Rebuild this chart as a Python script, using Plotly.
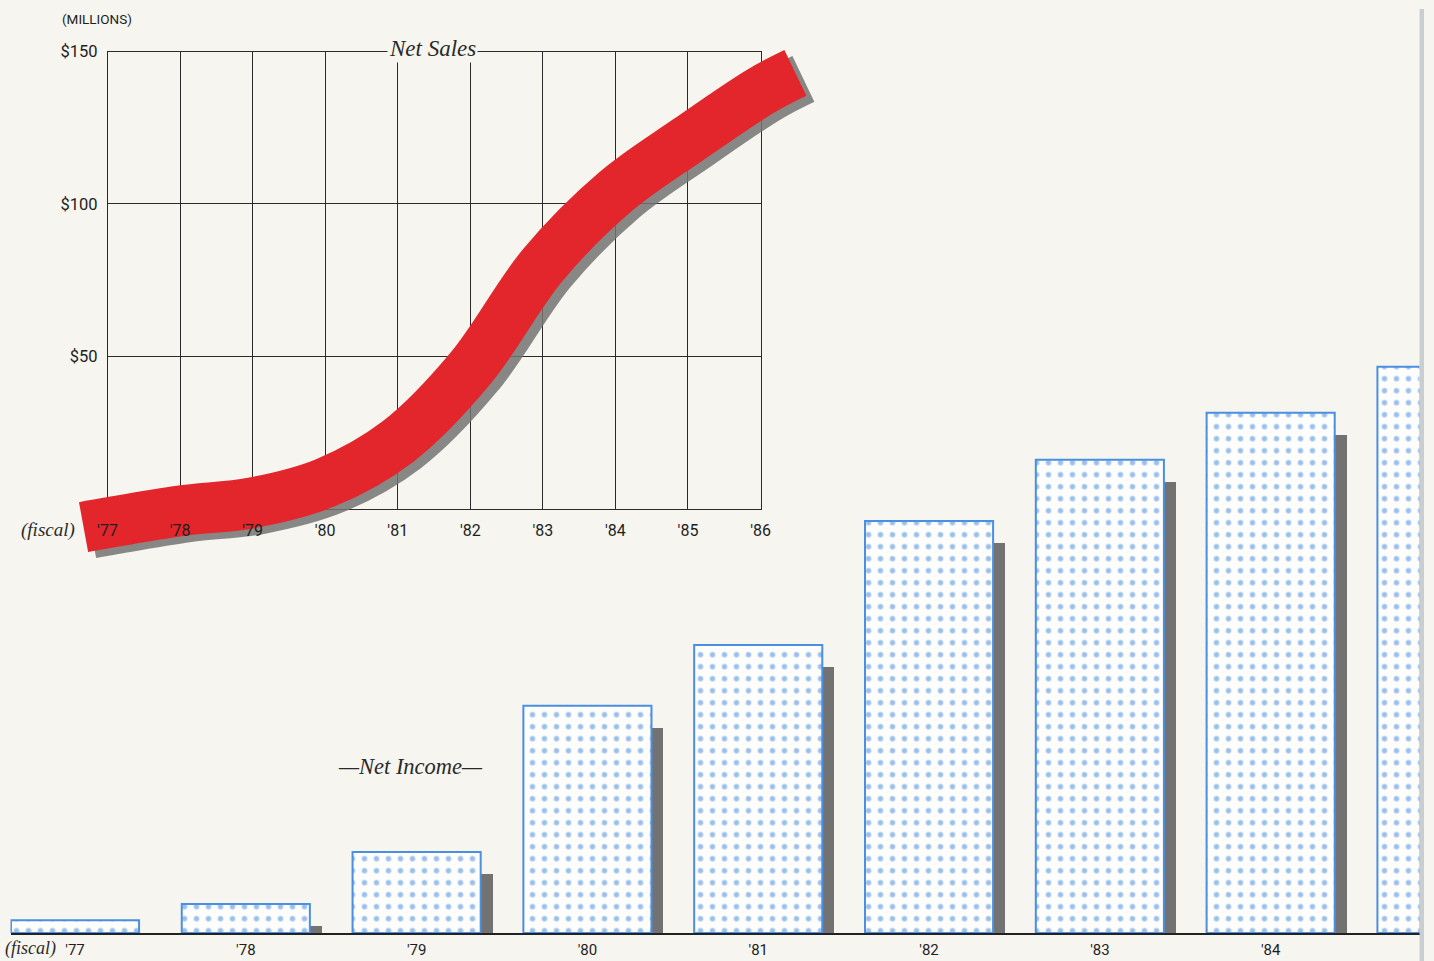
import plotly.graph_objects as go

# ---------------- data ----------------
sales_years = [77, 78, 79, 80, 81, 82, 83, 84, 85, 86]
sales_labels = ["'77", "'78", "'79", "'80", "'81", "'82", "'83", "'84", "'85", "'86"]
sales_y_ticks = [50, 100, 150]
sales_y_labels = ["$50", "$100", "$150"]
# centre line of the red ribbon (millions), including the ribbon's overhanging ends
ribbon_x = [76.67, 77, 78, 79, 80, 81, 82, 83, 84, 85, 86, 86.48]
ribbon_y = [-6, -4.6, -0.7, 2, 8.5, 22, 46, 80, 104, 121, 137, 143]

income_years = [77, 78, 79, 80, 81, 82, 83, 84, 85]
income_labels = ["'77", "'78", "'79", "'80", "'81", "'82", "'83", "'84", "'85"]
income_values = [0.43, 0.97, 2.7, 7.57, 9.6, 13.73, 15.77, 17.33, 18.87]

# ---------------- geometry helpers ----------------
W, H = 1434, 961
# the photographed picture shows page pixel p at T0 + TS * p
TX0, TXS = 9.5, 0.986
TY0, TYS = 8.5, 0.990
BG = "#f6f5ef"
EDGE = "#c9ced1"
INK = "#1e1e1e"
NARROW = "Liberation Sans Narrow, Roboto, Arial Narrow, sans-serif"
SERIF = "Liberation Serif, DejaVu Serif, serif"


def fx(p):
    return min(max(((p - TX0) / TXS) / W, 0.0), 1.0)


def fy(p):
    return min(max(1 - ((p - TY0) / TYS) / H, 0.0), 1.0)


def fs(s):
    return s / TXS


# top chart grid (picture pixels)
GX0, GX1 = 107, 760      # '77 .. '86
GY0, GY1 = 508, 51       # 0 .. 150
SX = (GX1 - GX0) / 9.0
SY = (GY0 - GY1) / 150.0


def xr(a, b):
    return [77 + (a - GX0) / SX, 77 + (b - GX0) / SX]


def yr(top, bottom):
    return [(GY0 - bottom) / SY, (GY0 - top) / SY]


# ribbon canvas (picture pixels)
RA, RB, RT, RBOT = 12, 900, 12, 640
SHX, SHY = 8, 6

# bottom chart (picture pixels)
BASE = 932
BTOP = 300
BX = 170.8
BC0 = 74.5
BLEFT = 10
BRIGHT = 1419
BY = 30.0
bx_range = [77 - (BC0 - BLEFT) / BX, 77 + (BRIGHT - BC0) / BX]
by_range = [0, (BASE - BTOP) / BY]
bsx, bsy = 12, 22

fig = go.Figure()

# subplot 1: grid
fig.add_trace(go.Scatter(x=[], y=[], xaxis="x", yaxis="y", showlegend=False, hoverinfo="skip"))
# subplot 2: ribbon shadow
fig.add_trace(go.Scatter(x=ribbon_x, y=ribbon_y, xaxis="x2", yaxis="y2", mode="lines",
                         line=dict(color="rgba(115,115,115,0.85)", width=fs(50), shape="spline", smoothing=1.0),
                         showlegend=False, hoverinfo="skip"))
# subplot 3: ribbon
fig.add_trace(go.Scatter(x=ribbon_x, y=ribbon_y, xaxis="x3", yaxis="y3", mode="lines",
                         line=dict(color="#e2262b", width=fs(50), shape="spline", smoothing=1.0),
                         showlegend=False, hoverinfo="skip"))
# subplot 4: top tick labels (above ribbon)
fig.add_trace(go.Scatter(x=[], y=[], xaxis="x4", yaxis="y4", showlegend=False, hoverinfo="skip"))
# subplot 5: bar shadows
fig.add_trace(go.Bar(x=income_years, y=income_values, xaxis="x5", yaxis="y5", width=0.75,
                     marker=dict(color="#727272", line=dict(width=0)),
                     showlegend=False, hoverinfo="skip"))
# subplot 6: bars
fig.add_trace(go.Bar(x=income_years, y=income_values, xaxis="x6", yaxis="y6", width=0.75,
                     marker=dict(color="#fdfdfb",
                                 line=dict(color="#4a8fe0", width=2),
                                 pattern=dict(shape=".", fgcolor="#3a84df", bgcolor="#fdfdfb",
                                              size=12, solidity=0.16)),
                     showlegend=False, hoverinfo="skip"))

hidden = dict(visible=False, autorange=False, fixedrange=True)

fig.update_layout(
    width=W, height=H,
    margin=dict(l=0, r=0, t=0, b=0),
    paper_bgcolor=BG, plot_bgcolor="rgba(0,0,0,0)",
    showlegend=False,
    bargap=0,
    # grid
    xaxis=dict(domain=[fx(GX0), fx(GX1)], range=[77, 86], anchor="y",
               tickmode="array", tickvals=sales_years, showticklabels=False, ticks="",
               showgrid=True, gridcolor="#2a2a2a", gridwidth=1, zeroline=False,
               showline=True, mirror=True, linecolor="#2a2a2a", linewidth=1, fixedrange=True),
    yaxis=dict(domain=[fy(GY0), fy(GY1)], range=[0, 150], anchor="x",
               tickmode="array", tickvals=[0, 50, 100, 150], showticklabels=False, ticks="",
               showgrid=True, gridcolor="#2a2a2a", gridwidth=1, zeroline=False,
               showline=True, mirror=True, linecolor="#2a2a2a", linewidth=1, fixedrange=True),
    # ribbon shadow
    xaxis2=dict(domain=[fx(RA + SHX), fx(RB + SHX)], range=xr(RA, RB), anchor="y2", **hidden),
    yaxis2=dict(domain=[fy(RBOT + SHY), fy(RT + SHY)], range=yr(RT, RBOT), anchor="x2", **hidden),
    # ribbon
    xaxis3=dict(domain=[fx(RA), fx(RB)], range=xr(RA, RB), anchor="y3", **hidden),
    yaxis3=dict(domain=[fy(RBOT), fy(RT)], range=yr(RT, RBOT), anchor="x3", **hidden),
    # top labels
    xaxis4=dict(domain=[fx(GX0), fx(GX1)], range=[77, 86], anchor="y4",
                tickmode="array", tickvals=sales_years, ticktext=sales_labels, ticks="",
                showgrid=False, zeroline=False, showline=False, ticklabelstandoff=10,
                tickfont=dict(family=NARROW, size=16, color=INK), fixedrange=True),
    yaxis4=dict(domain=[fy(GY0), fy(GY1)], range=[0, 150], anchor="x4",
                tickmode="array", tickvals=sales_y_ticks, ticktext=sales_y_labels, ticks="",
                showgrid=False, zeroline=False, showline=False, ticklabelstandoff=9,
                tickfont=dict(family=NARROW, size=16.5, color=INK), fixedrange=True),
    # bar shadows
    xaxis5=dict(domain=[fx(BLEFT), fx(BRIGHT)], range=[bx_range[0] - bsx / BX, bx_range[1] - bsx / BX],
                anchor="y5", **hidden),
    yaxis5=dict(domain=[fy(BASE), fy(BTOP)], range=[bsy / BY, by_range[1] + bsy / BY],
                anchor="x5", **hidden),
    # bars
    xaxis6=dict(domain=[fx(BLEFT), fx(BRIGHT)], range=bx_range, anchor="y6",
                tickmode="array", tickvals=income_years[:-1], ticktext=income_labels[:-1], ticks="",
                showgrid=False, zeroline=False, showline=True, linecolor="#222222", linewidth=2,
                ticklabelstandoff=2, tickfont=dict(family=NARROW, size=15, color=INK), fixedrange=True),
    yaxis6=dict(domain=[fy(BASE), fy(BTOP)], range=by_range, anchor="x6", autorange=False,
                visible=False, fixedrange=True),
)

annotations = [
    dict(text="(MILLIONS)", x=fx(59), y=fy(18), xanchor="left", yanchor="middle",
         font=dict(family=NARROW, size=13.5, color=INK)),
    dict(text="<i>Net Sales</i>", x=fx(432), y=fy(48), xanchor="center", yanchor="middle",
         font=dict(family=SERIF, size=23, color="#2a2a2a"), bgcolor=BG, borderpad=1),
    dict(text="<i>(fiscal)</i>", x=fx(76), y=fy(529), xanchor="right", yanchor="middle",
         font=dict(family=SERIF, size=19, color="#2a2a2a")),
    dict(text="<i>(fiscal)</i>", x=fx(57), y=fy(947), xanchor="right", yanchor="middle",
         font=dict(family=SERIF, size=18, color="#2a2a2a")),
    dict(text="<i>—Net Income—</i>", x=fx(410), y=fy(766), xanchor="center", yanchor="middle",
         font=dict(family=SERIF, size=22.5, color="#2a2a2a")),
]
for a in annotations:
    a.update(xref="paper", yref="paper", showarrow=False)
fig.update_layout(annotations=annotations)

# page edge strip on the right
fig.add_shape(type="rect", xref="paper", yref="paper", x0=fx(BRIGHT), x1=1, y0=0, y1=1,
              fillcolor=EDGE, line=dict(width=0), layer="above")

fig.write_html(
    "out.html",
    config={"displayModeBar": False, "staticPlot": True},
    post_script=(
        "document.body.style.margin='0';"
        "document.body.style.overflow='hidden';"
        "document.body.style.background='" + BG + "';"
        "document.documentElement.style.overflow='hidden';"
        "document.documentElement.style.background='" + BG + "';"
    ),
)
